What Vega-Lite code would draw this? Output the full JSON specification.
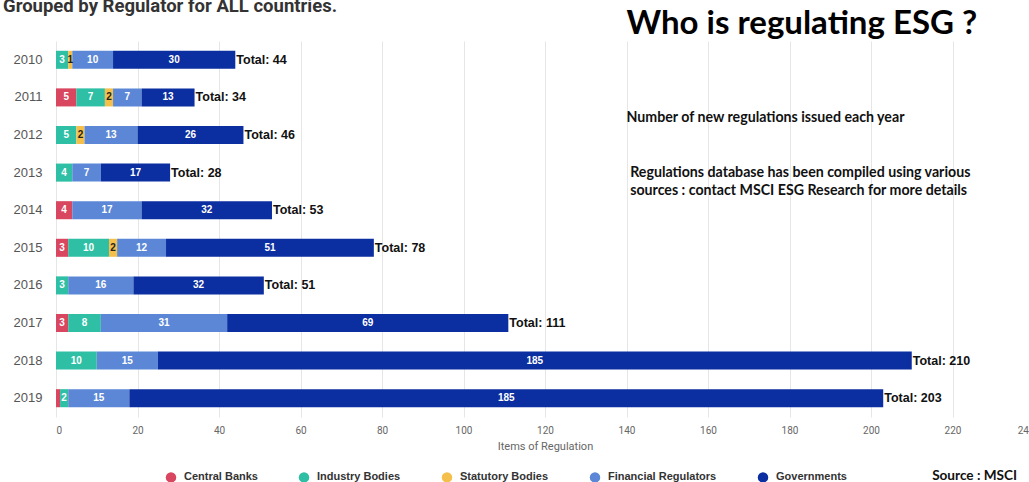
{
  "$schema": "https://vega.github.io/schema/vega-lite/v6.json",
  "width": 978,
  "height": 376,
  "autosize": {"type": "none"},
  "padding": {"left": 56, "top": 41, "right": 0, "bottom": 65},
  "background": "white",
  "config": {"view": {"stroke": null}},
  "data": {"values": [
    {"year": 2010, "reg": "Central Banks", "value": 0},
    {"year": 2010, "reg": "Industry Bodies", "value": 3},
    {"year": 2010, "reg": "Statutory Bodies", "value": 1},
    {"year": 2010, "reg": "Financial Regulators", "value": 10},
    {"year": 2010, "reg": "Governments", "value": 30},
    {"year": 2011, "reg": "Central Banks", "value": 5},
    {"year": 2011, "reg": "Industry Bodies", "value": 7},
    {"year": 2011, "reg": "Statutory Bodies", "value": 2},
    {"year": 2011, "reg": "Financial Regulators", "value": 7},
    {"year": 2011, "reg": "Governments", "value": 13},
    {"year": 2012, "reg": "Central Banks", "value": 0},
    {"year": 2012, "reg": "Industry Bodies", "value": 5},
    {"year": 2012, "reg": "Statutory Bodies", "value": 2},
    {"year": 2012, "reg": "Financial Regulators", "value": 13},
    {"year": 2012, "reg": "Governments", "value": 26},
    {"year": 2013, "reg": "Central Banks", "value": 0},
    {"year": 2013, "reg": "Industry Bodies", "value": 4},
    {"year": 2013, "reg": "Statutory Bodies", "value": 0},
    {"year": 2013, "reg": "Financial Regulators", "value": 7},
    {"year": 2013, "reg": "Governments", "value": 17},
    {"year": 2014, "reg": "Central Banks", "value": 4},
    {"year": 2014, "reg": "Industry Bodies", "value": 0},
    {"year": 2014, "reg": "Statutory Bodies", "value": 0},
    {"year": 2014, "reg": "Financial Regulators", "value": 17},
    {"year": 2014, "reg": "Governments", "value": 32},
    {"year": 2015, "reg": "Central Banks", "value": 3},
    {"year": 2015, "reg": "Industry Bodies", "value": 10},
    {"year": 2015, "reg": "Statutory Bodies", "value": 2},
    {"year": 2015, "reg": "Financial Regulators", "value": 12},
    {"year": 2015, "reg": "Governments", "value": 51},
    {"year": 2016, "reg": "Central Banks", "value": 0},
    {"year": 2016, "reg": "Industry Bodies", "value": 3},
    {"year": 2016, "reg": "Statutory Bodies", "value": 0},
    {"year": 2016, "reg": "Financial Regulators", "value": 16},
    {"year": 2016, "reg": "Governments", "value": 32},
    {"year": 2017, "reg": "Central Banks", "value": 3},
    {"year": 2017, "reg": "Industry Bodies", "value": 8},
    {"year": 2017, "reg": "Statutory Bodies", "value": 0},
    {"year": 2017, "reg": "Financial Regulators", "value": 31},
    {"year": 2017, "reg": "Governments", "value": 69},
    {"year": 2018, "reg": "Central Banks", "value": 0},
    {"year": 2018, "reg": "Industry Bodies", "value": 10},
    {"year": 2018, "reg": "Statutory Bodies", "value": 0},
    {"year": 2018, "reg": "Financial Regulators", "value": 15},
    {"year": 2018, "reg": "Governments", "value": 185},
    {"year": 2019, "reg": "Central Banks", "value": 1},
    {"year": 2019, "reg": "Industry Bodies", "value": 2},
    {"year": 2019, "reg": "Statutory Bodies", "value": 0},
    {"year": 2019, "reg": "Financial Regulators", "value": 15},
    {"year": 2019, "reg": "Governments", "value": 185}
  ]},
  "layer": [
    {
      "transform": [
        {"calculate": "indexof(['Central Banks','Industry Bodies','Statutory Bodies','Financial Regulators','Governments'], datum.reg)", "as": "k"},
        {"stack": "value", "groupby": ["year"], "sort": [{"field": "k", "order": "ascending"}], "as": ["v0", "v1"]}
      ],
      "mark": {"type": "bar"},
      "encoding": {
        "y": {"field": "year", "type": "ordinal", "scale": {"paddingInner": 0.52, "paddingOuter": 0.26},
              "axis": {"title": null, "ticks": false, "domain": false, "labelPadding": 14, "labelFontSize": 13, "labelFont": "Liberation Sans", "labelColor": "#555555"}},
        "x": {"field": "v0", "type": "quantitative", "scale": {"domain": [0, 240], "nice": false},
              "axis": {"values": [0, 20, 40, 60, 80, 100, 120, 140, 160, 180, 200, 220, 240], "grid": true, "gridColor": "#e6e6e6", "ticks": false, "domain": false,
                       "labelFontSize": 10, "labelFont": "Roboto", "labelColor": "#666666", "labelPadding": 8,
                       "title": "Items of Regulation", "titleFontSize": 11, "titleFont": "Roboto", "titleColor": "#666666", "titleFontWeight": "normal", "titlePadding": 5}},
        "x2": {"field": "v1"},
        "color": {"field": "reg", "type": "nominal",
                  "scale": {"domain": ["Central Banks", "Industry Bodies", "Statutory Bodies", "Financial Regulators", "Governments"],
                            "range": ["#d9465f", "#2ebfa5", "#f4c04b", "#5b87d6", "#0b2ea0"]},
                  "legend": {"orient": "none", "legendX": 109, "legendY": 430, "direction": "horizontal", "title": null, "symbolType": "circle", "symbolSize": 110,
                             "labelFontSize": 11, "labelFont": "Liberation Sans", "labelFontWeight": "bold", "labelColor": "#333333", "columnPadding": 40, "labelOffset": 7}}
      }
    },
    {
      "transform": [
        {"calculate": "indexof(['Central Banks','Industry Bodies','Statutory Bodies','Financial Regulators','Governments'], datum.reg)", "as": "k"},
        {"stack": "value", "groupby": ["year"], "sort": [{"field": "k", "order": "ascending"}], "as": ["v0", "v1"]},
        {"filter": "datum.value > 1 || (datum.value > 0 && datum.reg === 'Statutory Bodies')"},
        {"calculate": "(datum.v0 + datum.v1) / 2", "as": "mid"}
      ],
      "mark": {"type": "text", "fontSize": 10, "font": "Liberation Sans", "fontWeight": "bold", "baseline": "middle", "align": "center"},
      "encoding": {
        "y": {"field": "year", "type": "ordinal"},
        "x": {"field": "mid", "type": "quantitative"},
        "text": {"field": "value", "type": "quantitative"},
        "color": {"condition": {"test": "datum.reg === 'Statutory Bodies'", "value": "#222222"}, "value": "white"}
      }
    },
    {
      "transform": [
        {"aggregate": [{"op": "sum", "field": "value", "as": "total"}], "groupby": ["year"]},
        {"calculate": "'Total: ' + datum.total", "as": "lbl"}
      ],
      "mark": {"type": "text", "fontSize": 12.5, "font": "Liberation Sans", "fontWeight": "bold", "baseline": "middle", "align": "left", "dx": 1, "color": "#111111"},
      "encoding": {
        "y": {"field": "year", "type": "ordinal"},
        "x": {"field": "total", "type": "quantitative"},
        "text": {"field": "lbl"}
      }
    },
    {
      "data": {"values": [{"t": "Grouped by Regulator for ALL countries."}]},
      "mark": {"type": "text", "fontSize": 18.5, "font": "Roboto", "fontWeight": "bold", "baseline": "alphabetic", "align": "left", "color": "#333333", "yOffset": -48},
      "encoding": {"x": {"datum": -13}, "y": {"datum": 2010, "type": "ordinal"}, "text": {"field": "t"}}
    },
    {
      "data": {"values": [{"t": "Who is regulating ESG ?"}]},
      "mark": {"type": "text", "fontSize": 33, "font": "Lato", "fontWeight": "bold", "baseline": "alphabetic", "align": "left", "color": "#000000", "yOffset": -26},
      "encoding": {"x": {"datum": 140}, "y": {"datum": 2010, "type": "ordinal"}, "text": {"field": "t"}}
    },
    {
      "data": {"values": [{"t": "Number of new regulations issued each year"}]},
      "mark": {"type": "text", "fontSize": 14.2, "font": "Lato", "fontWeight": "bold", "baseline": "middle", "align": "left", "color": "#111111", "yOffset": -17},
      "encoding": {"x": {"datum": 140}, "y": {"datum": 2012, "type": "ordinal"}, "text": {"field": "t"}}
    },
    {
      "data": {"values": [{"t": ["Regulations database has been compiled using various", "sources : contact MSCI ESG Research for more details"]}]},
      "mark": {"type": "text", "fontSize": 14.2, "font": "Lato", "fontWeight": "bold", "baseline": "top", "align": "left", "color": "#111111", "yOffset": -7, "lineHeight": 18},
      "encoding": {"x": {"datum": 140.9}, "y": {"datum": 2013, "type": "ordinal"}, "text": {"field": "t"}}
    },
    {
      "data": {"values": [{"t": "Source : MSCI"}]},
      "mark": {"type": "text", "fontSize": 13.6, "font": "Lato", "fontWeight": "bold", "baseline": "middle", "align": "left", "color": "#111111", "yOffset": 78},
      "encoding": {"x": {"datum": 215}, "y": {"datum": 2019, "type": "ordinal"}, "text": {"field": "t"}}
    }
  ]
}
